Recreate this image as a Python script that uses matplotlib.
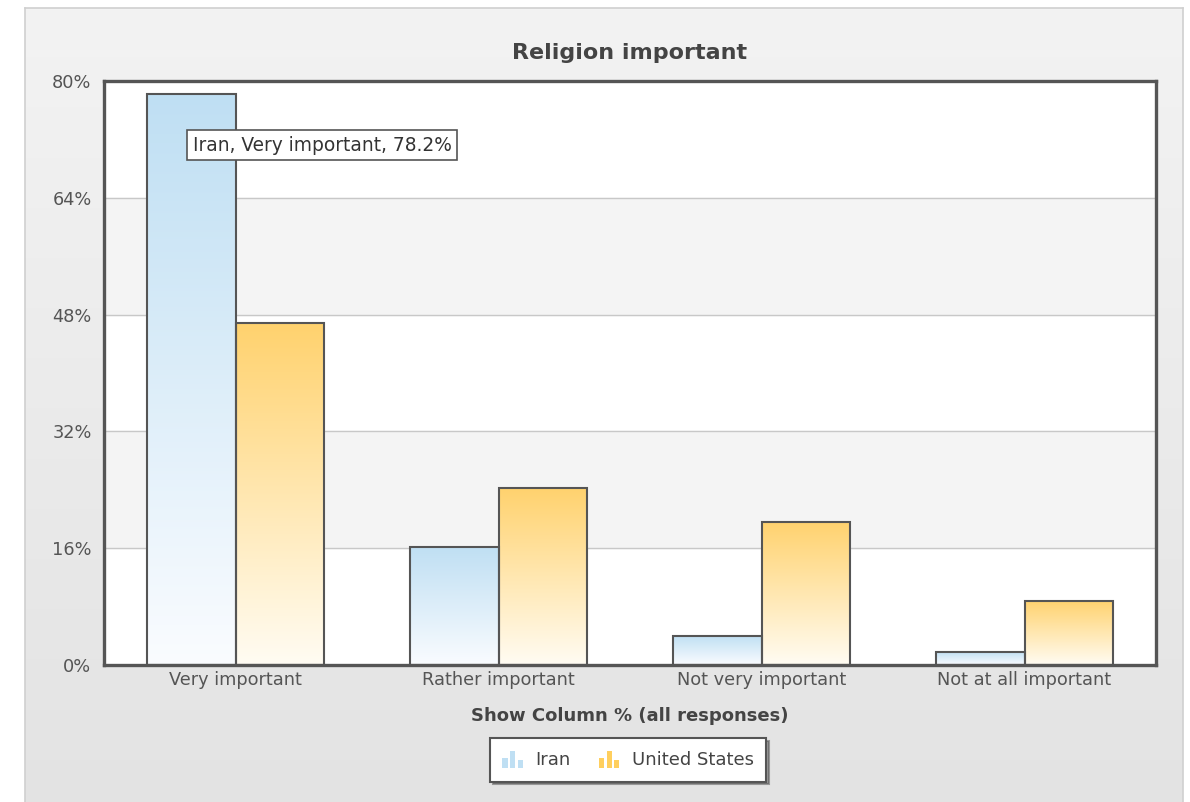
import numpy as np
import matplotlib
matplotlib.use("Agg")
import matplotlib.pyplot as plt
from matplotlib.patches import Rectangle
from matplotlib.legend_handler import HandlerBase
from matplotlib.ticker import FuncFormatter

# Datos
categorias = ["Very important", "Rather important", "Not very important", "Not at all important"]
iran = [78.2, 16.2, 4.0, 1.8]
usa = [46.8, 24.2, 19.6, 8.8]
series = ["Iran", "United States"]
yticks = [0, 16, 32, 48, 64, 80]

azul_top, azul_bot = "#bfdff3", "#fafcff"
naranja_top, naranja_bot = "#ffd26e", "#fffcf3"


def gradiente(c_top, c_bot, n=256):
    a = np.array(matplotlib.colors.to_rgb(c_top))
    b = np.array(matplotlib.colors.to_rgb(c_bot))
    t = np.linspace(0, 1, n)[:, None]
    return (a * (1 - t) + b * t)[:, None, :]


class HandlerIcono(HandlerBase):
    # icono de barritas como en la leyenda original
    def __init__(self, color):
        super().__init__()
        self.color = color

    def create_artists(self, legend, orig_handle, xdescent, ydescent, width, height, fontsize, trans):
        arts = []
        alturas = [0.6, 1.0, 0.45]
        w = width / 4.6
        for i, h in enumerate(alturas):
            r = Rectangle((-xdescent + i * w * 1.5, -ydescent - 2), w, height * h * 1.35,
                          facecolor=self.color, edgecolor="none", transform=trans)
            arts.append(r)
        return arts


fig = plt.figure(figsize=(11.9, 8.02), dpi=100)
fig.patch.set_facecolor("white")

# panel de fondo gris con degradado
bg = fig.add_axes([25 / 1190, -0.01, (1183 - 25) / 1190, (802 - 8) / 802 + 0.01], zorder=-10)
bg.imshow(gradiente("#f3f3f3", "#e3e3e3"), aspect="auto", extent=[0, 1, 0, 1])
bg.set_xticks([])
bg.set_yticks([])
for s in bg.spines.values():
    s.set_color("#d0d0d0")
    s.set_linewidth(1.2)
bg.spines["bottom"].set_visible(False)

ax = fig.add_axes([104 / 1190, 1 - 665 / 802, (1156 - 104) / 1190, (665 - 81) / 802])
ax.set_facecolor("white")

# bandas alternas
for i in range(len(yticks) - 1):
    if i % 2 == 1:
        ax.axhspan(yticks[i], yticks[i + 1], color="#f4f4f4", zorder=0)
for y in yticks[1:-1]:
    ax.axhline(y, color="#c8c8c8", lw=1, zorder=1)

x = np.arange(len(categorias))
ancho = 0.338
barras1 = ax.bar(x - ancho / 2, iran, ancho, facecolor="none", edgecolor="#555555", linewidth=1.5, zorder=3)
barras2 = ax.bar(x + ancho / 2, usa, ancho, facecolor="none", edgecolor="#555555", linewidth=1.5, zorder=3)

for barras, ct, cb in [(barras1, azul_top, azul_bot), (barras2, naranja_top, naranja_bot)]:
    for b in barras:
        x0, y0 = b.get_x(), b.get_y()
        w, h = b.get_width(), b.get_height()
        ax.imshow(gradiente(ct, cb), aspect="auto", extent=[x0, x0 + w, y0, y0 + h],
                  zorder=2, origin="upper")
ax.set_xlim(-0.5, len(categorias) - 0.5)
ax.set_ylim(0, 80)

for s in ax.spines.values():
    s.set_color("#555555")
    s.set_linewidth(2.4)
    s.set_zorder(5)

ax.set_yticks(yticks)
ax.yaxis.set_major_formatter(FuncFormatter(lambda v, p: f"{int(v)}%"))
ax.set_xticks(x)
ax.set_xticklabels(categorias)
ax.tick_params(length=0, labelsize=12.8, labelcolor="#555555", pad=9)
ax.tick_params(axis="x", pad=4)

ax.set_title("Religion important", fontsize=16, fontweight="bold", color="#444444", pad=16)
ax.set_xlabel("Show Column % (all responses)", fontsize=13, fontweight="bold", color="#444444", labelpad=13)

# tooltip
ax.text(-0.162, 71.2, f"Iran, {categorias[0]}, {iran[0]}%", fontsize=13.4, color="#333333",
        va="center", ha="left", zorder=6,
        bbox=dict(boxstyle="square,pad=0.3", facecolor="white", edgecolor="#555555", linewidth=1.2))

# leyenda
h1 = Rectangle((0, 0), 1, 1)
h2 = Rectangle((0, 0), 1, 1, facecolor="orange")
leg = fig.legend([h1, h2], series, loc="center", bbox_to_anchor=(628 / 1190, 1 - 760 / 802),
                 ncol=2, fontsize=13, frameon=True, fancybox=False, shadow=True,
                 handler_map={h1: HandlerIcono("#bfdff3"), h2: HandlerIcono("#ffcf5e")},
                 handlelength=1.3, handletextpad=0.5, columnspacing=1.6, borderpad=0.7)
leg.get_frame().set_edgecolor("#555555")
leg.get_frame().set_linewidth(1.5)
for t in leg.get_texts():
    t.set_color("#444444")

fig.savefig("out.png", dpi=100)
